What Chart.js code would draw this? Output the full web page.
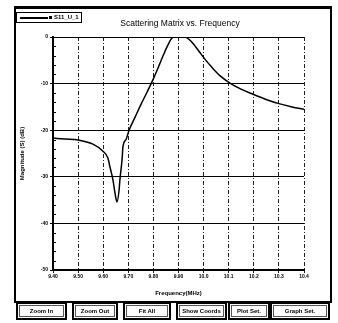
<!DOCTYPE html>
<html>
<head>
<meta charset="utf-8">
<script src="https://cdn.jsdelivr.net/npm/chart.js@4.4.1/dist/chart.umd.min.js"></script>
<style>
  html, body { margin: 0; padding: 0; background: #fff; }
  body { width: 338px; height: 323px; position: relative; overflow: hidden; font-family: "Liberation Sans", Arial, sans-serif; }
  #wrap { position: absolute; left: 0; top: 0; width: 338px; height: 323px; }
  #frame { position: absolute; left: 14px; top: 6px; width: 314px; height: 292px; border: 2px solid #000; border-top-width: 3px; pointer-events: none; }
  #legend { position: absolute; left: 16px; top: 12px; width: 64px; height: 9px; border: 1px solid #000; font-size: 6px; font-weight: bold; line-height: 9px; white-space: nowrap; }
  #legend .ln { position: absolute; left: 3px; top: 4px; width: 28px; border-top: 2px solid #000; }
  #legend .dot { position: absolute; left: 32px; top: 3px; width: 3px; height: 3px; background: #000; }
  #legend .tx { position: absolute; left: 37px; top: 0; }
  #title { position: absolute; left: 95px; top: 18px; width: 170px; text-align: center; font-size: 8.5px; }
  #buttons { position: absolute; left: 14px; top: 301px; width: 318px; height: 19px; }
  .btn { position: absolute; top: 1px; height: 14px; border: 2px solid #000; box-shadow: inset 0 0 0 1px #fff, inset 0 0 0 2px #555; font-size: 6px; font-weight: bold; text-align: center; line-height: 14px; white-space: nowrap; }
</style>
</head>
<body>
<div id="wrap"><canvas id="chart" width="338" height="323"></canvas></div>
<div id="frame"></div>
<div id="legend"><span class="ln"></span><span class="dot"></span><span class="tx">S11_U_1</span></div>
<div id="title">Scattering Matrix vs. Frequency</div>
<div id="buttons"></div>
<script>
  // === Datos ===
  const FREQ_MHZ = [9400, 9448, 9500, 9559, 9599, 9619, 9627, 9639, 9647, 9655, 9663, 9667, 9675, 9679, 9691,
    9703, 9727, 9751, 9775, 9798, 9822, 9842, 9858, 9874, 9886, 9906, 9926, 9942, 9958, 9982, 10006, 10033,
    10065, 10105, 10149, 10197, 10249, 10300, 10352, 10400];
  const MAG_DB = [-21.7, -21.9, -22.1, -23.0, -24.5, -26.0, -27.9, -30.7, -33.5, -35.4, -33.0, -30.4, -26.4,
    -23.4, -22.0, -20.0, -17.2, -14.4, -11.8, -9.2, -6.2, -3.6, -1.7, -0.2, 0, 0, 0, -0.5, -1.4, -3.1, -4.8,
    -6.5, -8.3, -9.9, -11.2, -12.3, -13.4, -14.3, -15.0, -15.5];
  const X_TICK_LABELS = ["9.40", "9.50", "9.60", "9.70", "9.80", "9.90", "10.0", "10.1", "10.2", "10.3", "10.4"];
  const Y_TICK_LABELS = { "0": "0", "-10": "-10", "-20": "-20", "-30": "-30", "-40": "-40", "-50": "-50" };
  const BUTTONS = ["Zoom In", "Zoom Out", "Fit All", "Show Coords", "Plot Set.", "Graph Set."];
  const BTN_POS = [[2, 47], [58, 42], [109, 44], [162, 47], [214, 38], [256, 56]];

  // === Botones ===
  const elBtns = document.getElementById("buttons");
  BUTTONS.forEach((b, i) => {
    const d = document.createElement("div");
    d.className = "btn";
    d.style.left = BTN_POS[i][0] + "px";
    d.style.width = BTN_POS[i][1] + "px";
    d.textContent = b;
    elBtns.appendChild(d);
  });

  // marcas menores en el eje Y
  const minorTicks = {
    id: "minorTicks",
    afterDraw(chart) {
      const ys = chart.scales.y, ctx = chart.ctx, left = chart.chartArea.left;
      ctx.save();
      ctx.strokeStyle = "#000";
      ctx.lineWidth = 1;
      for (let v = -48; v < 0; v += 2) {
        if (v % 10 === 0) continue;
        const py = Math.round(ys.getPixelForValue(v)) + 0.5;
        ctx.beginPath(); ctx.moveTo(left, py); ctx.lineTo(left + 3, py); ctx.stroke();
      }
      ctx.restore();
    }
  };

  const tickFont = { family: "Liberation Sans", size: 5, weight: "bold" };

  new Chart(document.getElementById("chart"), {
    type: "line",
    data: {
      datasets: [{
        data: FREQ_MHZ.map((f, i) => ({ x: f, y: MAG_DB[i] })),
        borderColor: "#000",
        borderWidth: 1.5,
        pointRadius: 0,
        cubicInterpolationMode: "monotone",
        fill: false
      }]
    },
    options: {
      responsive: false,
      animation: false,
      events: [],
      layout: { padding: { left: 14, top: 37, right: 34, bottom: 23 } },
      plugins: { legend: { display: false }, title: { display: false }, tooltip: { enabled: false } },
      scales: {
        x: {
          type: "linear", min: 9400, max: 10400,
          afterFit: (s) => { s.height = 30; },
          ticks: { stepSize: 100, color: "#000", font: tickFont, padding: 1, maxRotation: 0, autoSkip: false,
            callback: (v) => X_TICK_LABELS[Math.round((v - 9400) / 100)] },
          grid: { color: "#222", lineWidth: 1, tickLength: 3 },
          border: { color: "#000", width: 2, dash: [4, 2, 1, 2] },
          title: { display: true, text: "Frequency(MHz)", color: "#000", font: { family: "Liberation Sans", size: 6, weight: "bold" }, padding: { top: 0, bottom: 3 } }
        },
        y: {
          min: -50, max: 0,
          afterFit: (s) => { s.width = 39; },
          ticks: { stepSize: 10, color: "#000", font: tickFont, padding: 2,
            callback: (v) => Y_TICK_LABELS[String(v)] },
          grid: { color: "#000", lineWidth: 1, tickLength: 3 },
          border: { color: "#000", width: 2 },
          title: { display: true, text: "Magnitude (S) (dB)", color: "#000", font: { family: "Liberation Sans", size: 6, weight: "bold" }, padding: { top: 5, bottom: 0 } }
        }
      }
    },
    plugins: [minorTicks]
  });
</script>
</body>
</html>
